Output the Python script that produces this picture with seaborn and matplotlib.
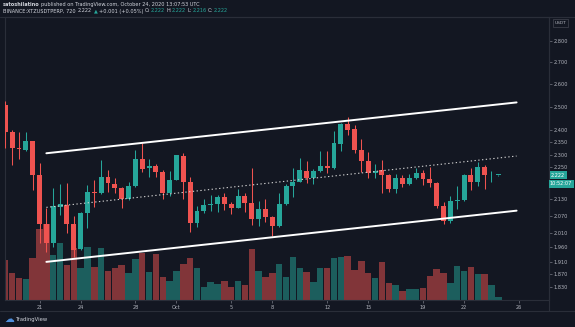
import numpy as np
import pandas as pd
import matplotlib
matplotlib.use("Agg")
import matplotlib.pyplot as plt
from matplotlib.lines import Line2D
from matplotlib.ticker import FixedLocator, NullLocator
import seaborn as sns

# BINANCE:XTZUSDTPERP, 12h candles from 2020-09-18 12:00 UTC
opens = [2.507, 2.393, 2.328, 2.319, 2.355, 2.221, 2.039, 1.975, 2.102, 2.108,
         2.039, 1.954, 2.080, 2.155, 2.152, 2.212, 2.187, 2.173, 2.130, 2.178,
         2.282, 2.249, 2.256, 2.234, 2.153, 2.202, 2.296, 2.196, 2.043, 2.086,
         2.108, 2.114, 2.137, 2.111, 2.098, 2.141, 2.116, 2.059, 2.095, 2.066,
         2.033, 2.112, 2.179, 2.196, 2.237, 2.208, 2.236, 2.254, 2.248, 2.342,
         2.424, 2.403, 2.319, 2.275, 2.227, 2.239, 2.221, 2.168, 2.208, 2.187,
         2.209, 2.227, 2.204, 2.192, 2.105, 2.052, 2.123, 2.127, 2.221, 2.196,
         2.252, 2.220, 2.222]
highs = [2.524, 2.400, 2.393, 2.391, 2.355, 2.266, 2.098, 2.173, 2.186, 2.189,
         2.068, 2.084, 2.183, 2.202, 2.279, 2.240, 2.208, 2.175, 2.196, 2.319,
         2.346, 2.283, 2.263, 2.240, 2.236, 2.299, 2.306, 2.212, 2.104, 2.131,
         2.144, 2.144, 2.152, 2.121, 2.168, 2.152, 2.246, 2.123, 2.130, 2.069,
         2.152, 2.186, 2.246, 2.286, 2.276, 2.244, 2.315, 2.315, 2.396, 2.428,
         2.456, 2.421, 2.363, 2.310, 2.263, 2.279, 2.223, 2.225, 2.221, 2.225,
         2.246, 2.240, 2.250, 2.194, 2.121, 2.141, 2.180, 2.223, 2.249, 2.273,
         2.259, 2.236, 2.222]
lows = [2.327, 2.259, 2.282, 2.317, 2.164, 1.975, 1.944, 1.961, 2.072, 2.010,
        1.928, 1.952, 2.025, 2.102, 2.150, 2.157, 2.151, 2.096, 2.127, 2.176,
        2.231, 2.214, 2.214, 2.130, 2.141, 2.200, 2.130, 2.013, 2.031, 2.081,
        2.088, 2.084, 2.090, 2.076, 2.096, 2.084, 2.037, 2.033, 2.049, 1.998,
        2.031, 2.108, 2.138, 2.193, 2.189, 2.187, 2.233, 2.229, 2.244, 2.315,
        2.381, 2.306, 2.231, 2.210, 2.210, 2.153, 2.157, 2.151, 2.177, 2.181,
        2.207, 2.181, 2.177, 2.096, 2.040, 2.043, 2.094, 2.123, 2.164, 2.178,
        2.166, 2.196, 2.216]
closes = [2.393, 2.326, 2.322, 2.355, 2.221, 2.039, 1.975, 2.104, 2.111, 2.039,
          1.952, 2.078, 2.155, 2.151, 2.212, 2.189, 2.173, 2.130, 2.178, 2.282,
          2.244, 2.256, 2.234, 2.153, 2.202, 2.299, 2.196, 2.043, 2.086, 2.108,
          2.114, 2.137, 2.111, 2.098, 2.141, 2.116, 2.059, 2.095, 2.066, 2.033,
          2.112, 2.179, 2.196, 2.240, 2.208, 2.236, 2.254, 2.248, 2.346, 2.424,
          2.400, 2.319, 2.275, 2.227, 2.236, 2.221, 2.168, 2.208, 2.187, 2.209,
          2.227, 2.204, 2.192, 2.105, 2.052, 2.123, 2.127, 2.221, 2.196, 2.251,
          2.221, 2.221, 2.222]
# volume, millions XTZ
volumes = [4.0, 2.7, 2.2, 2.1, 4.2, 7.1, 7.6, 4.5, 5.7, 3.5,
           5.2, 3.2, 5.3, 3.3, 5.2, 2.9, 3.2, 3.5, 2.7, 4.1,
           4.7, 2.8, 4.6, 2.3, 1.9, 2.9, 3.6, 4.2, 3.2, 1.3,
           1.8, 1.6, 1.9, 1.3, 1.9, 1.5, 5.1, 2.9, 2.3, 2.7,
           3.6, 2.3, 4.3, 3.2, 2.8, 1.8, 3.2, 3.2, 4.2, 4.3,
           4.4, 3.0, 3.9, 2.7, 2.2, 3.8, 1.7, 1.5, 0.9, 1.1,
           1.1, 1.2, 2.4, 3.1, 2.7, 1.7, 3.4, 2.9, 3.3, 2.6,
           2.6, 1.5, 0.3]

price_ticks = [2.8, 2.7, 2.6, 2.5, 2.4, 2.35, 2.3, 2.25, 2.13,
               2.07, 2.01, 1.96, 1.91, 1.87, 1.83]
date_ticks = ["2020-09-21", "2020-09-24", "2020-09-28", "2020-10-01", "2020-10-05",
              "2020-10-08", "2020-10-12", "2020-10-15", "2020-10-19", "2020-10-22",
              "2020-10-26"]
date_tick_labels = ["21", "24", "28", "Oct", "5", "8", "12", "15", "19", "22", "26"]

# parallel channel drawn on the chart
channel_times = ["2020-09-21 12:00", "2020-10-25 20:00"]
channel_upper = [2.306, 2.518]
channel_mid = [2.100, 2.295]
channel_lower = [1.911, 2.088]

BG = "#131722"
GRID = "#2a2e39"
TXT = "#b2b5be"
UP = "#26a69a"
DOWN = "#ef5350"
VOL_UP = "#1c5e5d"
VOL_DOWN = "#813539"

sns.set_theme(style="dark", rc={"axes.facecolor": BG, "figure.facecolor": BG,
                                "savefig.facecolor": BG, "axes.edgecolor": GRID})
plt.rcParams["font.family"] = ["DejaVu Sans"]

W, H = 575, 327
start = pd.Timestamp("2020-09-18 12:00")


def to_pos(ts):
    return (pd.Timestamp(ts) - start) / pd.Timedelta(hours=12)


def fx(x):
    return x / W


def fy(y):
    return 1 - y / H


opens_a, highs_a = np.array(opens), np.array(highs)
lows_a, closes_a = np.array(lows), np.array(closes)
pos = np.arange(len(opens))
rising = closes_a >= opens_a

fig = plt.figure(figsize=(W / 100, H / 100), dpi=100)
rect = [fx(5), fy(300), fx(549) - fx(5), fy(17) - fy(300)]
xlim = (-0.04, 79.4)

# volume pane, behind the candles
axv = fig.add_axes(rect)
vol_df = pd.DataFrame({"pos": pos, "volume": volumes,
                       "dir": np.where(rising, "up", "down")})
sns.barplot(data=vol_df, x="pos", y="volume", hue="dir",
            palette={"up": VOL_UP, "down": VOL_DOWN}, native_scale=True,
            dodge=False, width=0.94, saturation=1, errorbar=None,
            legend=False, linewidth=0, ax=axv)
axv.set_xlim(*xlim)
axv.set_ylim(0, 28.3)
axv.set_axis_off()

# price pane
ax = fig.add_axes(rect, facecolor="none")
ax.set_yscale("log")
ax.set_ylim(1.789, 2.919)
ax.set_xlim(*xlim)

colors = np.where(rising, UP, DOWN)
ax.vlines(pos, lows_a, highs_a, colors=colors, lw=0.75, zorder=3)
body_lo = np.minimum(opens_a, closes_a)
body_h = np.maximum(np.abs(closes_a - opens_a), 0.0025)
ax.bar(pos, body_h, bottom=body_lo, width=0.72, color=colors, lw=0, zorder=4)

cx = [to_pos(t) for t in channel_times]
ax.plot(cx, channel_upper, color="white", lw=1.4, solid_capstyle="round", zorder=5)
ax.plot(cx, channel_lower, color="white", lw=1.4, solid_capstyle="round", zorder=5)
ax.plot(cx, channel_mid, color="#d0d0d0", lw=0.8, ls=(0, (1.2, 2.2)), zorder=5)

ax.yaxis.tick_right()
ax.yaxis.set_major_locator(FixedLocator(price_ticks))
ax.yaxis.set_minor_locator(NullLocator())
ax.set_yticklabels([f"{p:.3f}" for p in price_ticks])
ax.set_xticks([to_pos(d) for d in date_ticks])
ax.set_xticklabels(date_tick_labels)
ax.xaxis.set_minor_locator(NullLocator())
ax.tick_params(axis="both", which="major", length=2, width=0.5, color="#787b86",
               labelsize=3.6, labelcolor=TXT, pad=1.5)
ax.tick_params(axis="y", right=True, left=False, labelright=True, labelleft=False)
ax.tick_params(axis="x", bottom=True, top=False)
ax.grid(False)
for s in ax.spines.values():
    s.set_color(GRID)
    s.set_linewidth(0.8)

# pane separators
for y in (17, 311):
    fig.add_artist(Line2D([0, 1], [fy(y), fy(y)], color=GRID, lw=0.8))
fig.add_artist(Line2D([fx(549), fx(549)], [fy(17), fy(311)], color=GRID, lw=0.8))

# price axis badges
fig.text(fx(560.5), fy(23), "USDT", color=TXT, fontsize=3.2, ha="center", va="center",
         bbox=dict(boxstyle="square,pad=0.35", fc=BG, ec="#434651", lw=0.5))
fig.text(fx(551), fy(175), f"{closes[-1]:.3f}", color="white", fontsize=3.6,
         ha="left", va="center",
         bbox=dict(boxstyle="square,pad=0.3", fc=UP, ec="none"))
fig.text(fx(550), fy(183.5), "10:52:07", color="white", fontsize=3.6,
         ha="left", va="center",
         bbox=dict(boxstyle="square,pad=0.3", fc=UP, ec="none"))

# header
renderer = fig.canvas.get_renderer()


def text_run(x, y, parts, size=3.6):
    for s, color, weight, gap in parts:
        t = fig.text(fx(x), fy(y), s, color=color, fontsize=size,
                     fontweight=weight, ha="left", va="center")
        bb = t.get_window_extent(renderer)
        x = bb.x1 + gap


LIGHT = "#d1d4dc"
text_run(3, 4.5, [("satoshilatino", LIGHT, "bold", 1.5),
                  ("published on TradingView.com, October 24, 2020 13:07:53 UTC",
                   LIGHT, "normal", 0)])
chg = closes[-1] - closes[-2]
pct = chg / closes[-2] * 100
text_run(3, 11, [("BINANCE:XTZUSDTPERP, 720", LIGHT, "normal", 2.5),
                 (f"{closes[-1]:.3f}", LIGHT, "normal", 1.5),
                 ("▲", UP, "normal", 1.5),
                 (f"{chg:+.3f} ({pct:+.2f}%)", LIGHT, "normal", 1.5),
                 ("O:", LIGHT, "normal", 0.3), (f"{opens[-1]:.3f}", UP, "normal", 1.5),
                 ("H:", LIGHT, "normal", 0.3), (f"{highs[-1]:.3f}", UP, "normal", 1.5),
                 ("L:", LIGHT, "normal", 0.3), (f"{lows[-1]:.3f}", UP, "normal", 1.5),
                 ("C:", LIGHT, "normal", 0.3), (f"{closes[-1]:.3f}", UP, "normal", 0)])

# footer logo
fig.text(fx(4), fy(319), "☁", color="#4f8fdc", fontsize=7, ha="left", va="center")
fig.text(fx(16), fy(319), "TradingView", color=LIGHT, fontsize=3.8,
         ha="left", va="center")

fig.savefig("out.png", dpi=100, facecolor=BG)
